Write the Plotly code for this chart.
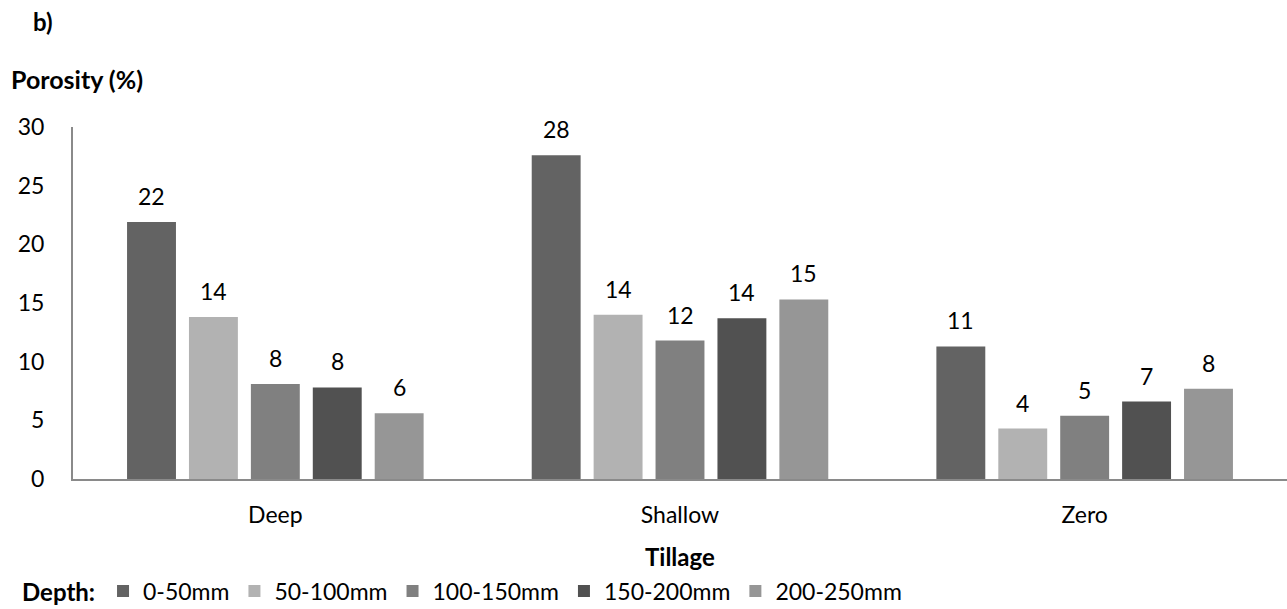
import math
import plotly.graph_objects as go

# Soil porosity (%) by tillage system and sampling depth
tillage = ["Deep", "Shallow", "Zero"]
depths = ["0-50mm", "50-100mm", "100-150mm", "150-200mm", "200-250mm"]
porosity_0_50 = [21.9, 27.6, 11.3]
porosity_50_100 = [13.8, 14.0, 4.3]
porosity_100_150 = [8.1, 11.8, 5.4]
porosity_150_200 = [7.8, 13.7, 6.6]
porosity_200_250 = [5.6, 15.3, 7.7]
series = [porosity_0_50, porosity_50_100, porosity_100_150,
          porosity_150_200, porosity_200_250]
colors = ["#636363", "#b2b2b2", "#808080", "#515151", "#969696"]

W, H = 1287, 609
ML, MR, MT, MB = 73, 0, 127, 130
FONT = "Lato, 'Open Sans', sans-serif"
SIZE = 23
BOLD = 24
BAR_GAP = 0.235
AXIS_GREY = "#8a8a8a"


def px_x(px):
    return (px - ML) / (W - ML - MR)


def px_y(px):
    return (H - MB - px) / (H - MT - MB)


fig = go.Figure()
for name, vals, col in zip(depths, series, colors):
    fig.add_trace(go.Bar(
        x=tillage, y=vals, name=name,
        marker=dict(color=col, line=dict(width=0)),
    ))

# value labels above each bar, placed at the grouped-bar offsets
n = len(series)
slot = (1 - BAR_GAP) / n
annotations = []
for i, vals in enumerate(series):
    offset = (i - (n - 1) / 2) * slot
    for j, v in enumerate(vals):
        annotations.append(dict(
            x=j + offset, y=v, xref="x", yref="y",
            text=str(math.floor(v + 0.5)), showarrow=False,
            yanchor="middle", yshift=26,
            font=dict(family=FONT, size=SIZE, color="#000000"),
        ))

# panel letter and axis titles
annotations += [
    dict(text="<b>b)</b>", x=px_x(31), y=px_y(22), xref="paper", yref="paper",
         showarrow=False, xanchor="left", yanchor="middle",
         font=dict(family=FONT, size=BOLD, color="#000000")),
    dict(text="<b>Porosity (%)</b>", x=px_x(9), y=px_y(79), xref="paper",
         yref="paper", showarrow=False, xanchor="left", yanchor="middle",
         font=dict(family=FONT, size=25, color="#000000")),
    dict(text="<b>Tillage</b>", x=0.5, y=px_y(556), xref="paper", yref="paper",
         showarrow=False, xanchor="center", yanchor="middle",
         font=dict(family=FONT, size=BOLD, color="#000000")),
]

fig.update_layout(
    width=W, height=H,
    margin=dict(l=ML, r=MR, t=MT, b=MB),
    paper_bgcolor="white", plot_bgcolor="white",
    barmode="group", bargap=BAR_GAP, bargroupgap=0.21,
    font=dict(family=FONT, size=SIZE, color="#000000"),
    showlegend=True,
    legend=dict(
        orientation="h", xref="container", yref="container",
        x=20 / W, xanchor="left", y=(H - 591) / H, yanchor="middle",
        title=dict(text="<b>Depth:</b>", side="left",
                   font=dict(family=FONT, size=BOLD)),
        font=dict(family=FONT, size=SIZE),
        bgcolor="rgba(0,0,0,0)", traceorder="normal",
    ),
    xaxis=dict(
        showline=True, linecolor=AXIS_GREY, linewidth=2,
        showgrid=False, ticks="", ticklabelstandoff=14,
        tickfont=dict(family=FONT, size=SIZE),
    ),
    yaxis=dict(
        range=[0, 30], dtick=5, showline=True, linecolor=AXIS_GREY,
        linewidth=2, showgrid=False, zeroline=False, ticks="",
        ticklabelstandoff=22, tickfont=dict(family=FONT, size=SIZE),
    ),
    annotations=annotations,
)

fig.write_html("out.html")
